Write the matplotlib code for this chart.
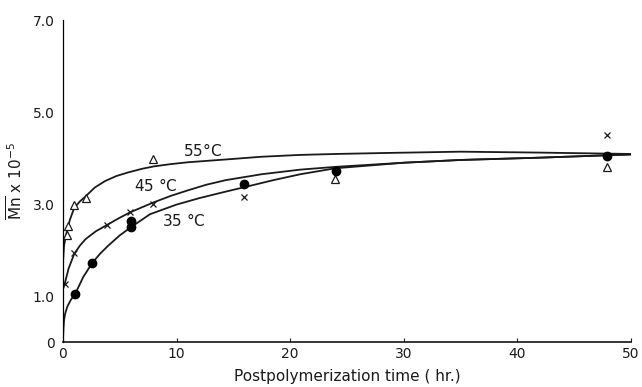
import matplotlib.pyplot as plt

# -------------------------------------------------
# DATA
# -------------------------------------------------
# measured points
t55_x = [0.32, 0.47, 1.0, 2.0, 7.9, 23.9, 47.9]
t55_y = [2.33, 2.52, 2.98, 3.14, 3.98, 3.54, 3.80]

t45_x = [0.15, 1.0, 3.9, 5.9, 7.9, 15.9, 47.9]
t45_y = [1.26, 1.94, 2.54, 2.83, 3.01, 3.16, 4.50]

t35_x = [1.05, 2.57, 6.0, 6.0, 15.9, 24.0, 47.9]
t35_y = [1.04, 1.72, 2.64, 2.50, 3.43, 3.72, 4.05]

# drawn curves
c55_x = [0, 0.1, 0.3, 0.6, 1.0, 1.5, 2.0, 2.8, 3.7, 4.7, 5.75, 7.0, 8.0, 9.5, 11, 14.3, 17.5,
         20.9, 24, 28, 35, 42, 50]
c55_y = [1.7, 2.1, 2.35, 2.65, 2.92, 3.06, 3.17, 3.36, 3.50, 3.61, 3.69, 3.77, 3.82, 3.87, 3.91,
         3.97, 4.03, 4.07, 4.09, 4.11, 4.14, 4.12, 4.09]

c45_x = [0, 0.15, 0.5, 1.0, 1.5, 2.0, 2.9, 3.9, 4.9, 5.9, 7.9, 9.5, 11, 12.6, 14.3, 17.5, 20.9,
         24, 30, 35, 42, 50]
c45_y = [1.15, 1.26, 1.6, 1.92, 2.10, 2.24, 2.41, 2.55, 2.69, 2.82, 3.03, 3.18, 3.30, 3.42, 3.52,
         3.65, 3.75, 3.81, 3.90, 3.96, 4.01, 4.08]

c35_x = [0, 0.05, 0.1, 0.2, 0.4, 0.7, 1.06, 1.8, 2.58, 3.3, 4.0, 5.0, 6.0, 7.66, 10, 12, 14.3,
         16, 18.5, 20.9, 24, 30, 35, 42, 50]
c35_y = [0, 0.3, 0.48, 0.62, 0.78, 0.92, 1.04, 1.42, 1.72, 1.93, 2.10, 2.32, 2.50, 2.78, 2.99,
         3.13, 3.27, 3.37, 3.52, 3.65, 3.78, 3.90, 3.96, 4.01, 4.08]

y_ticks = [0, 1, 3, 5, 7]
y_tick_labels = ["0", "1.0", "3.0", "5.0", "7.0"]
x_ticks = [0, 10, 20, 30, 40, 50]
x_tick_labels = ["0", "10", "20", "30", "40", "50"]

# -------------------------------------------------
# VISUAL SETTINGS
# -------------------------------------------------
plt.rcParams.update({
    "font.family": "DejaVu Sans",
    "font.size": 10,
})

ink = "#1a1a1a"
fig = plt.figure(figsize=(6.42, 3.87), dpi=100)
ax = fig.add_axes([0.098, 0.116, 0.885, 0.832])

# curves
ax.plot(c55_x, c55_y, color=ink, linewidth=1.3)
ax.plot(c45_x, c45_y, color=ink, linewidth=1.3)
ax.plot(c35_x, c35_y, color=ink, linewidth=1.3)

# markers
ax.plot(t55_x, t55_y, linestyle="none", marker="^", markersize=6,
        markerfacecolor="white", markeredgecolor=ink, markeredgewidth=0.9)
ax.plot(t45_x, t45_y, linestyle="none", marker="x", markersize=4.5,
        color=ink, markeredgewidth=0.9)
ax.plot(t35_x, t35_y, linestyle="none", marker="o", markersize=6,
        color="black")

# curve labels
ax.text(12.3, 4.17, "55$\\degree$C", fontsize=11, ha="center", va="center", color=ink)
ax.text(8.2, 3.41, "45 $\\degree$C", fontsize=11, ha="center", va="center", color=ink)
ax.text(10.6, 2.65, "35 $\\degree$C", fontsize=11, ha="center", va="center", color=ink)

# axes
ax.set_xlim(0, 50)
ax.set_ylim(0, 7)
ax.set_xticks(x_ticks)
ax.set_xticklabels(x_tick_labels)
ax.set_yticks(y_ticks)
ax.set_yticklabels(y_tick_labels)
ax.tick_params(direction="in", length=3, width=0.8, colors=ink, labelsize=10)
ax.tick_params(axis="y", length=0, pad=6)

ax.spines["top"].set_visible(False)
ax.spines["right"].set_visible(False)
ax.spines["left"].set_linewidth(0.9)
ax.spines["bottom"].set_linewidth(1.1)

ax.set_xlabel("Postpolymerization time ( hr.)", fontsize=11, color=ink, labelpad=6)
ax.set_ylabel("$\\overline{\\mathrm{Mn}}$ x 10$^{-5}$", fontsize=11, color=ink, labelpad=5)

fig.savefig("out.png", dpi=100)
